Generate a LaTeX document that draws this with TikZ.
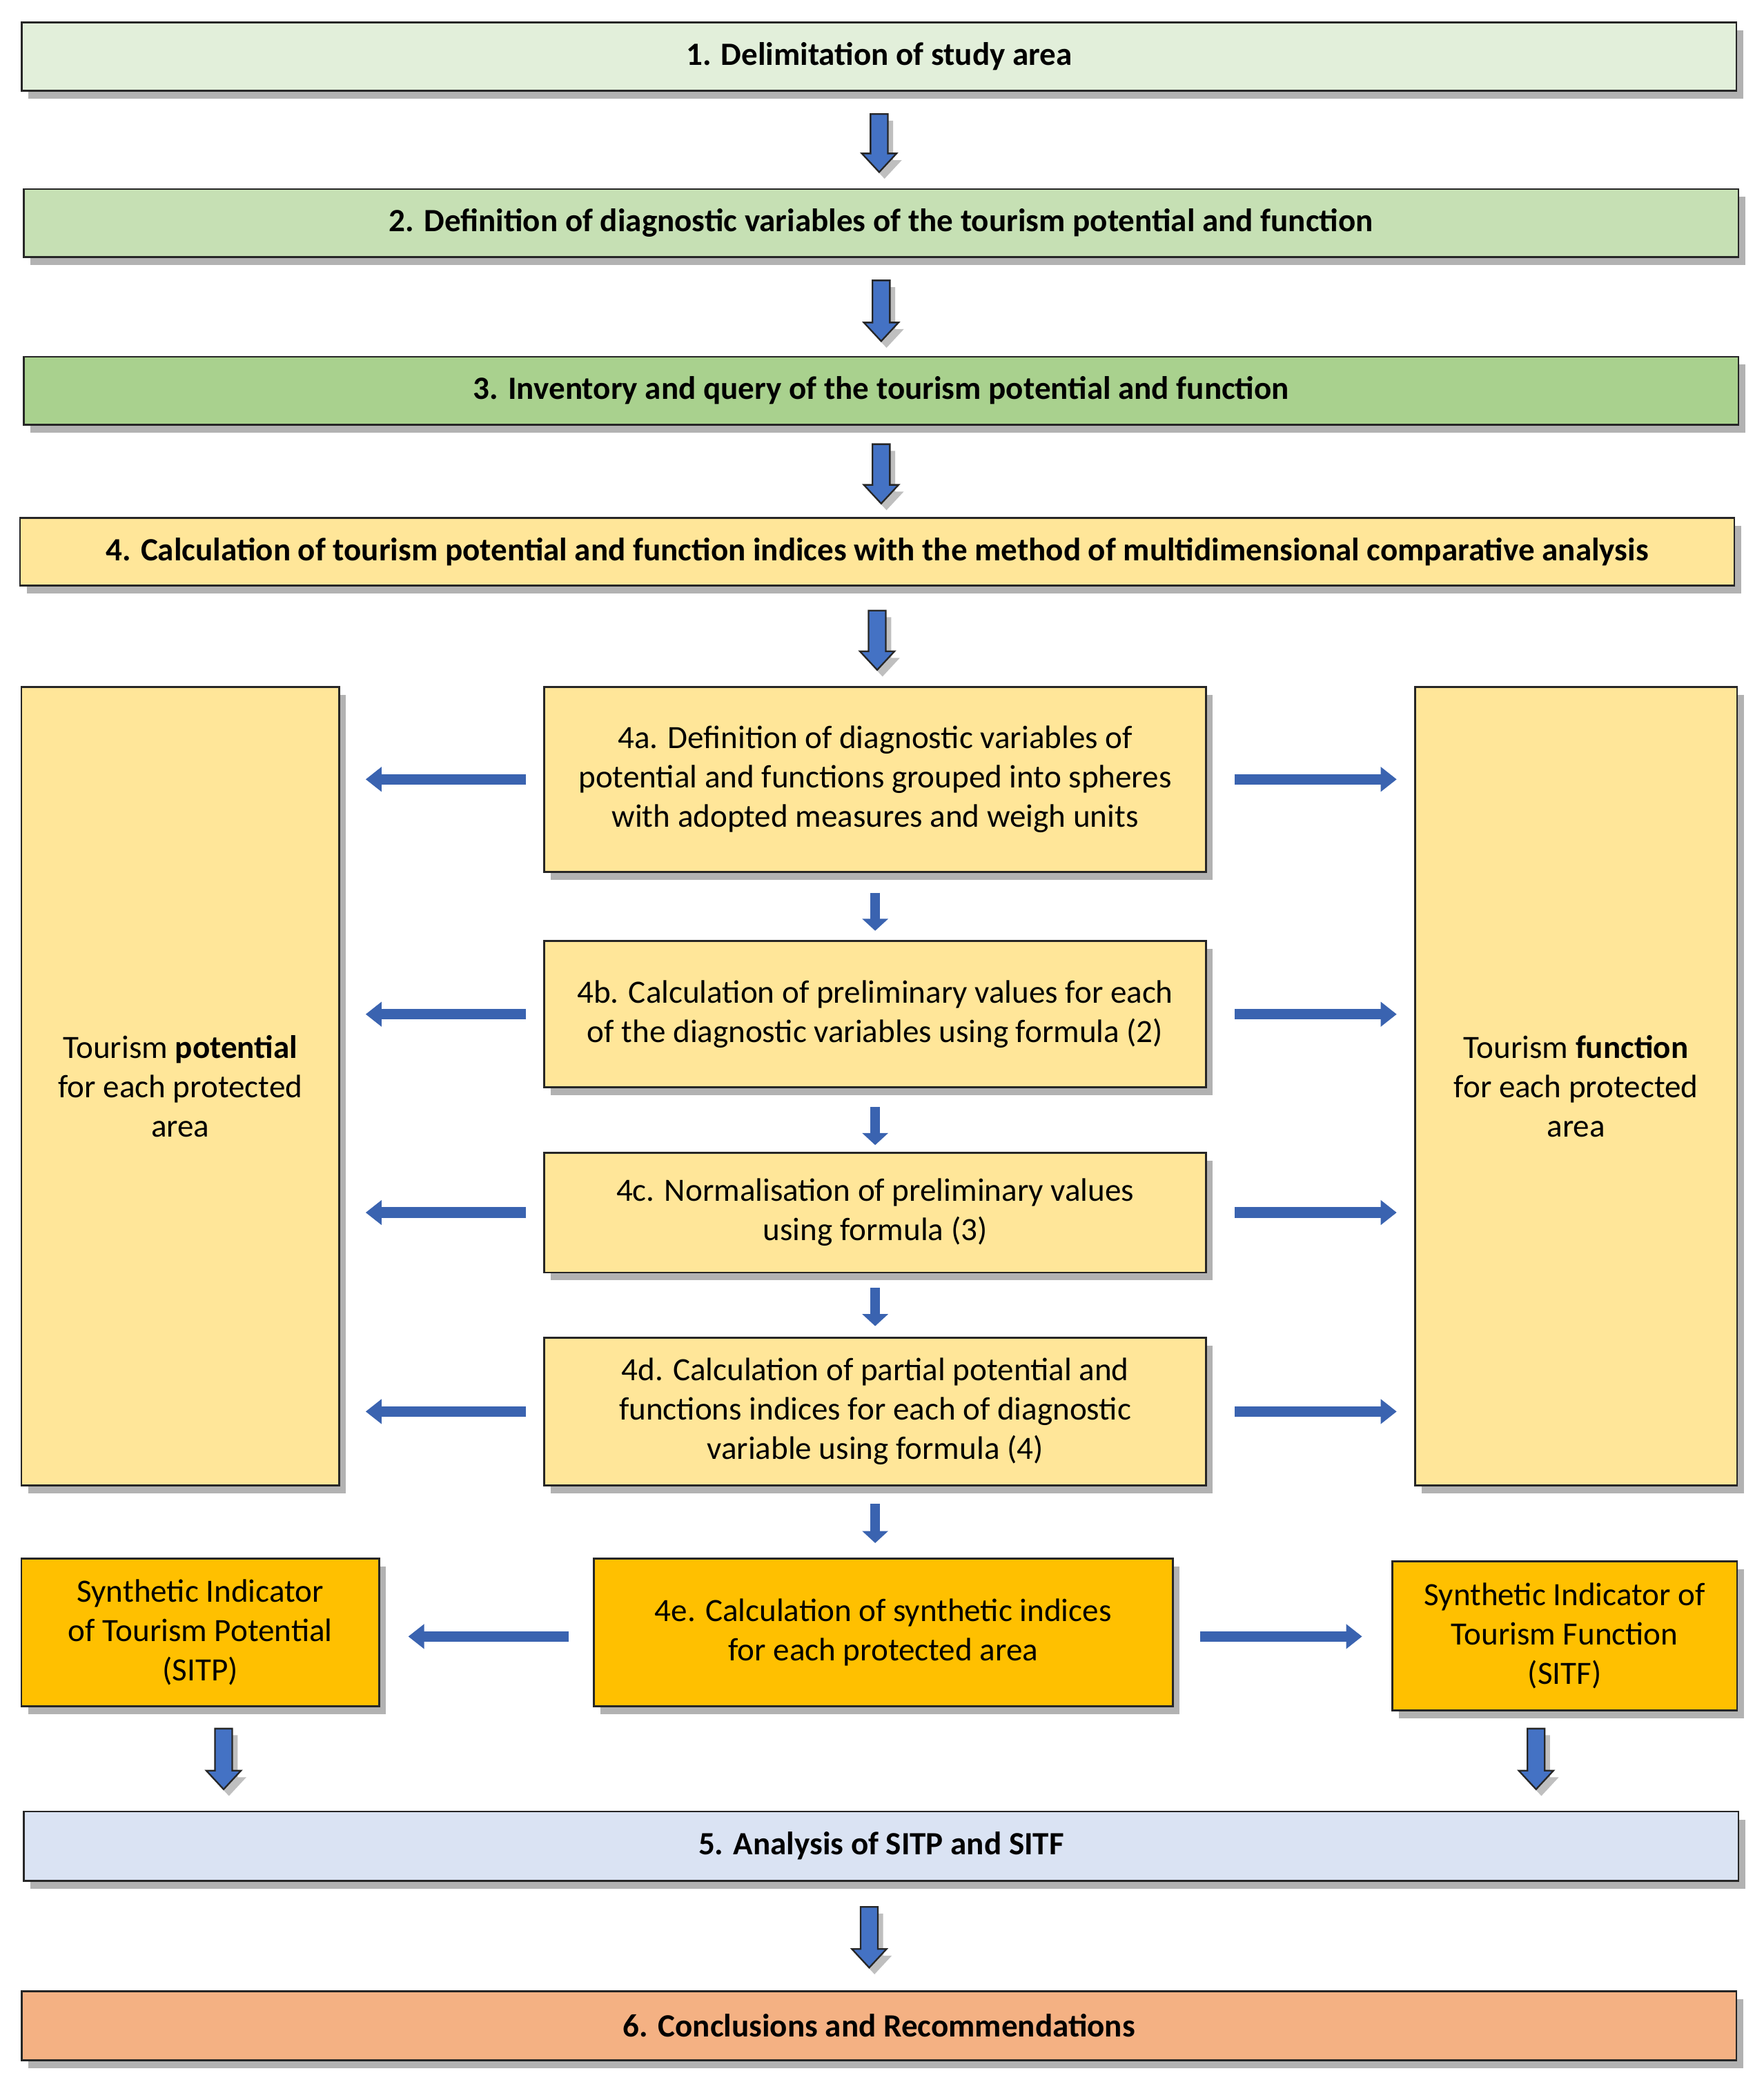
\documentclass[tikz,border=0pt]{standalone}
\usepackage{fontspec}
\setmainfont{Carlito}
\usetikzlibrary{calc,shadows,arrows.meta}

\definecolor{stepone}{HTML}{E2EFDA}
\definecolor{steptwo}{HTML}{C6E0B4}
\definecolor{stepthree}{HTML}{A9D18E}
\definecolor{stepfour}{HTML}{FFE699}
\definecolor{synth}{HTML}{FFC000}
\definecolor{stepfive}{HTML}{DAE3F3}
\definecolor{stepsix}{HTML}{F4B183}
\definecolor{arrowblue}{HTML}{4472C4}
\definecolor{arrowline}{HTML}{3A63B0}

\tikzset{
  box/.style={draw=black!85, line width=0.7pt, align=center, inner sep=3pt,
    font=\fontsize{12.2}{14.8}\selectfont,
    drop shadow={shadow xshift=2.5pt, shadow yshift=-3pt, fill=black, opacity=0.3}},
  mainbox/.style={box, minimum width=644pt, minimum height=25.5pt,
    font=\fontsize{12.2}{14.8}\selectfont\bfseries},
  subbox/.style={box, fill=stepfour, minimum width=248.5pt},
  synthbox/.style={box, fill=synth},
  bigarrow/.style={draw=black!85, fill=arrowblue, line width=0.6pt,
    drop shadow={shadow xshift=2pt, shadow yshift=-2.5pt, fill=black, opacity=0.25},
    to path={let \p1=(\tikztostart), \p2=(\tikztotarget) in
      (\x1-3.25pt,\y1) -- (\x1+3.25pt,\y1) -- (\x1+3.25pt,\y2+7pt)
      -- (\x1+6.5pt,\y2+7pt) -- (\x1,\y2) -- (\x1-6.5pt,\y2+7pt)
      -- (\x1-3.25pt,\y2+7pt) -- cycle}},
  sidearrow/.style={draw=arrowline, line width=4pt,
    -{Triangle[width=9pt,length=6pt]}},
  smallarrow/.style={draw=arrowline, line width=3.5pt,
    -{Triangle[width=9.5pt,length=4.5pt]}}
}

\begin{document}
\begin{tikzpicture}[x=0.5pt, y=-0.5pt]
\useasboundingbox (0,0) rectangle (1325,1571);

% main steps
\node[mainbox, fill=stepone] (s1) at (660.5,42.5) {1. Delimitation of study area};
\node[mainbox, fill=steptwo] (s2) at (662,167.5) {2. Definition of diagnostic variables of the tourism potential and function};
\node[mainbox, fill=stepthree] (s3) at (662,293.5) {3. Inventory and query of the tourism potential and function};
\node[mainbox, fill=stepfour] (s4) at (659,414.5) {4. Calculation of tourism potential and function indices with the method of multidimensional comparative analysis};

% side columns
\node[box, fill=stepfour, minimum width=119.5pt, minimum height=300pt] (pot) at (135.5,816)
  {Tourism \textbf{potential}\\for each protected\\area};
\node[box, fill=stepfour, minimum width=121pt, minimum height=300pt] (fun) at (1184,816)
  {Tourism \textbf{function}\\for each protected\\area};

% sub-steps
\node[subbox, minimum height=69.5pt] (s4a) at (657.5,585.5)
  {4a. Definition of diagnostic variables of\\potential and functions grouped into spheres\\with adopted measures and weigh units};
\node[subbox, minimum height=55pt] (s4b) at (657.5,762)
  {4b. Calculation of preliminary values for each\\of the diagnostic variables using formula (2)};
\node[subbox, minimum height=45pt] (s4c) at (657.5,911)
  {4c. Normalisation of preliminary values\\using formula (3)};
\node[subbox, minimum height=55.5pt] (s4d) at (657.5,1060.5)
  {4d. Calculation of partial potential and\\functions indices for each of diagnostic\\variable using formula (4)};
\node[synthbox, minimum width=217.5pt, minimum height=55.5pt] (s4e) at (663.5,1226.5)
  {4e. Calculation of synthetic indices\\for each protected area};
\node[synthbox, minimum width=134.5pt, minimum height=55.5pt] (sitp) at (150.5,1226.5)
  {Synthetic Indicator\\of Tourism Potential\\(SITP)};
\node[synthbox, minimum width=129.5pt, minimum height=56pt] (sitf) at (1175.5,1229)
  {Synthetic Indicator of\\Tourism Function\\(SITF)};

\node[mainbox, fill=stepfive, minimum height=26pt] (s5) at (662,1387) {5. Analysis of SITP and SITF};
\node[mainbox, fill=stepsix, minimum height=26pt] (s6) at (660.5,1522) {6. Conclusions and Recommendations};

% arrows
\draw[bigarrow] ([yshift=-8.5pt]s1.south) to ([yshift=6pt]s2.north);
\draw[bigarrow] ([yshift=-8.5pt]s2.south) to ([yshift=5.5pt]s3.north);
\draw[bigarrow] ([yshift=-7pt]s3.south) to ([yshift=5pt]s4.north);
\draw[bigarrow] ([yshift=-9pt]s4.south) to ([yshift=6pt]s4a.north);

\draw[smallarrow] ([yshift=-7.5pt]s4a.south) -- ([yshift=3.5pt]s4b.north);
\draw[smallarrow] ([yshift=-7pt]s4b.south) -- ([yshift=2.5pt]s4c.north);
\draw[smallarrow] ([yshift=-5.5pt]s4c.south) -- ([yshift=4pt]s4d.north);
\draw[smallarrow] ([yshift=-6.5pt]s4d.south) -- ([yshift=5.5pt]s4d.south |- s4e.north);

\foreach \n in {s4a,s4b,s4c,s4d} {
  \draw[sidearrow] ([xshift=-6.5pt]\n.west) -- ([xshift=9.5pt]\n.west -| pot.east);
  \draw[sidearrow] ([xshift=10.5pt]\n.east) -- ([xshift=-6.5pt]\n.east -| fun.west);
}
\draw[sidearrow] ([xshift=-9pt,yshift=-1.5pt]s4e.west) -- ([xshift=10.5pt,yshift=-1.5pt]s4e.west -| sitp.east);
\draw[sidearrow] ([xshift=10pt,yshift=-1.5pt]s4e.east) -- ([xshift=-11pt,yshift=-1.5pt]s4e.east -| sitf.west);

\draw[bigarrow] ([xshift=8.75pt,yshift=-8pt]sitp.south) to ([yshift=8pt]s5.north);
\draw[bigarrow] ([xshift=-10.75pt,yshift=-6.5pt]sitf.south) to ([yshift=8pt]s5.north);
\draw[bigarrow] ([xshift=-4.5pt,yshift=-9.5pt]s5.south) to ([yshift=8.5pt]s6.north);
\end{tikzpicture}
\end{document}
